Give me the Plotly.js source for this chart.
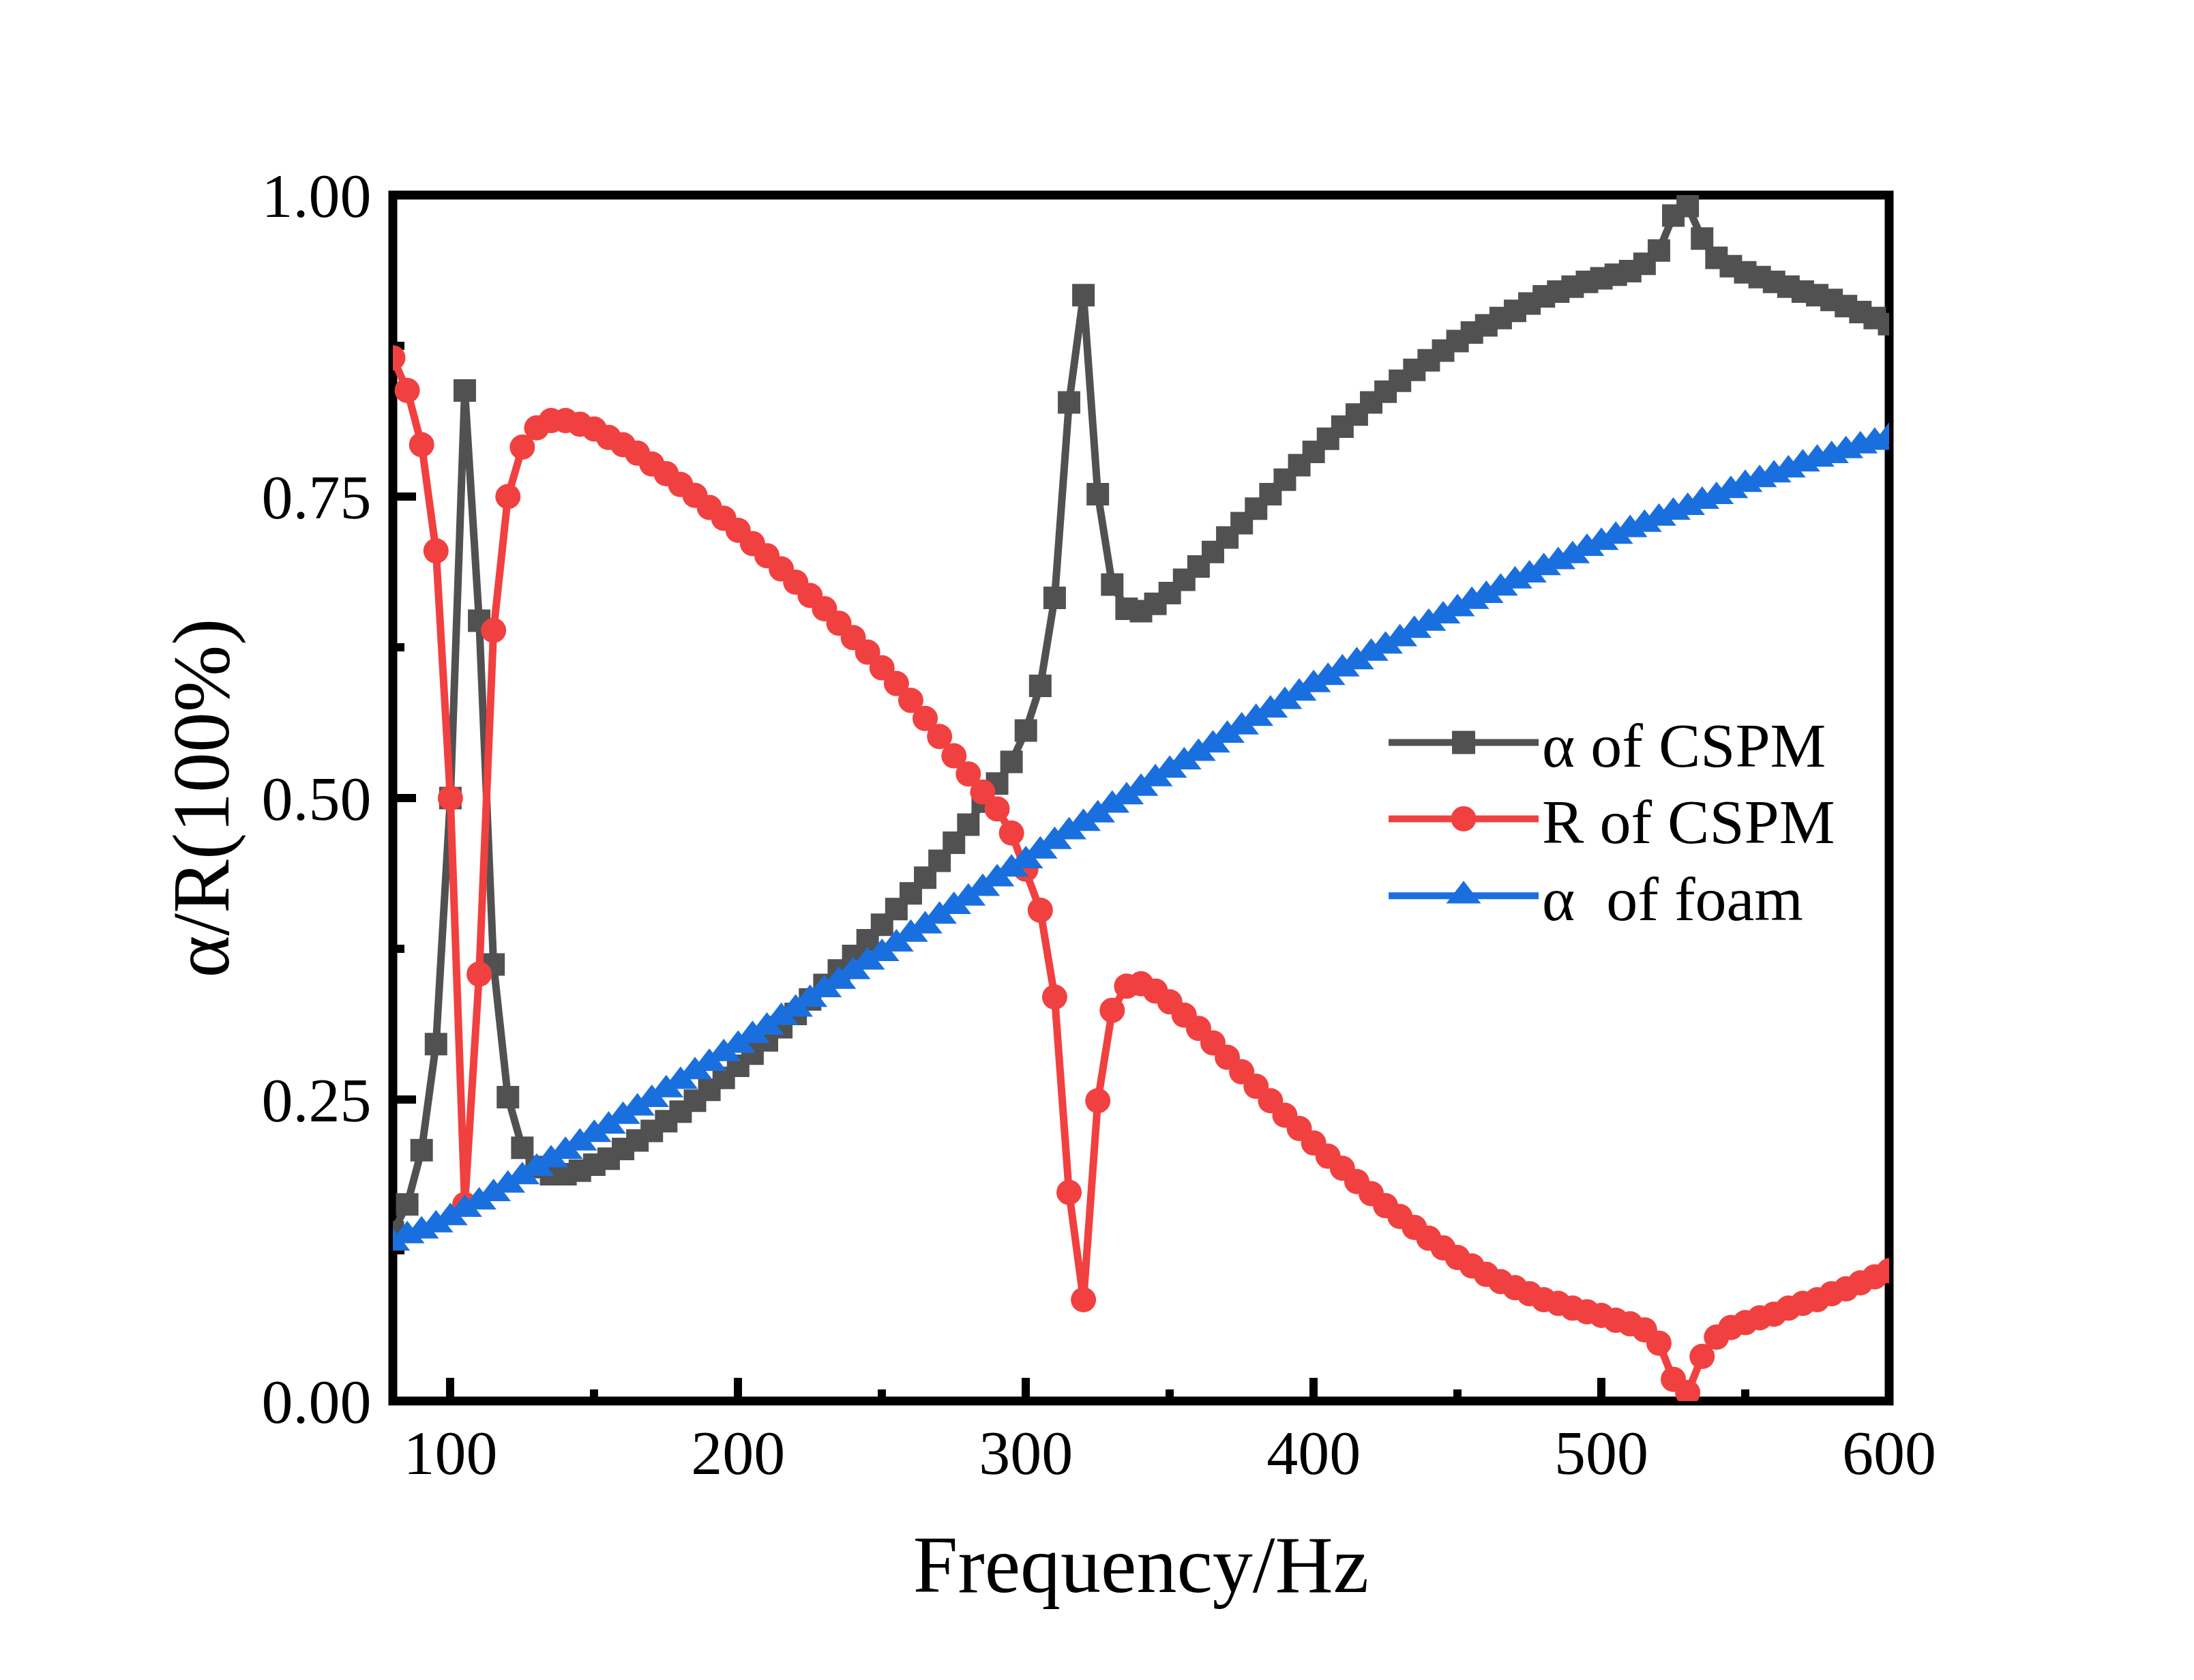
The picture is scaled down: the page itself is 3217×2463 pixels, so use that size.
<!DOCTYPE html>
<html>
<head>
<meta charset="utf-8">
<script src="https://cdn.plot.ly/plotly-3.0.1.min.js"></script>
<style>html,body{margin:0;padding:0;background:#ffffff;}</style>
</head>
<body>
<div id="chart" style="width:3217px;height:2463px;"></div>
<script>
const frequency = [80,85,90,95,100,105,110,115,120,125,130,135,140,145,150,155,160,165,170,175,180,185,190,195,200,205,210,215,220,225,230,235,240,245,250,255,260,265,270,275,280,285,290,295,300,305,310,315,320,325,330,335,340,345,350,355,360,365,370,375,380,385,390,395,400,405,410,415,420,425,430,435,440,445,450,455,460,465,470,475,480,485,490,495,500,505,510,515,520,525,530,535,540,545,550,555,560,565,570,575,580,585,590,595,600];

const alphaCSPM = [0.140,0.163,0.208,0.296,0.500,0.838,0.647,0.362,0.252,0.210,0.194,0.188,0.188,0.191,0.196,0.201,0.209,0.216,0.224,0.232,0.240,0.249,0.258,0.268,0.278,0.288,0.299,0.310,0.321,0.333,0.345,0.357,0.369,0.382,0.395,0.408,0.421,0.434,0.448,0.463,0.478,0.497,0.512,0.530,0.556,0.593,0.666,0.828,0.917,0.752,0.677,0.657,0.655,0.661,0.670,0.681,0.692,0.704,0.716,0.728,0.740,0.752,0.764,0.776,0.787,0.798,0.808,0.818,0.828,0.837,0.846,0.855,0.863,0.871,0.879,0.886,0.892,0.898,0.904,0.910,0.916,0.920,0.924,0.928,0.931,0.934,0.937,0.943,0.954,0.983,0.991,0.964,0.948,0.941,0.936,0.932,0.928,0.924,0.920,0.917,0.913,0.908,0.903,0.898,0.893];

const reflectionCSPM = [0.865,0.838,0.793,0.705,0.500,0.163,0.354,0.639,0.750,0.791,0.807,0.813,0.813,0.810,0.806,0.799,0.793,0.786,0.777,0.769,0.760,0.751,0.741,0.732,0.722,0.711,0.701,0.690,0.679,0.668,0.657,0.645,0.633,0.621,0.608,0.595,0.581,0.566,0.551,0.535,0.520,0.505,0.491,0.471,0.441,0.407,0.335,0.173,0.084,0.249,0.324,0.344,0.346,0.340,0.331,0.320,0.309,0.297,0.285,0.273,0.261,0.249,0.237,0.226,0.214,0.203,0.193,0.182,0.172,0.162,0.153,0.144,0.135,0.127,0.119,0.112,0.105,0.099,0.094,0.089,0.084,0.081,0.077,0.074,0.071,0.067,0.064,0.059,0.048,0.018,0.007,0.037,0.053,0.061,0.065,0.069,0.072,0.077,0.081,0.084,0.089,0.093,0.098,0.103,0.108];

const alphaFoam = [0.131,0.137,0.141,0.146,0.152,0.159,0.165,0.172,0.179,0.186,0.193,0.200,0.207,0.214,0.221,0.228,0.236,0.243,0.250,0.258,0.265,0.273,0.280,0.288,0.295,0.303,0.310,0.318,0.325,0.333,0.341,0.348,0.356,0.364,0.371,0.379,0.387,0.394,0.402,0.410,0.417,0.425,0.433,0.441,0.448,0.456,0.464,0.472,0.479,0.486,0.494,0.501,0.508,0.516,0.523,0.530,0.537,0.544,0.552,0.559,0.566,0.573,0.580,0.587,0.594,0.600,0.607,0.613,0.620,0.626,0.632,0.639,0.645,0.651,0.657,0.663,0.668,0.674,0.680,0.685,0.691,0.696,0.701,0.707,0.712,0.717,0.7225,0.727,0.732,0.737,0.741,0.746,0.750,0.755,0.760,0.764,0.768,0.772,0.777,0.781,0.784,0.788,0.792,0.795,0.799];

const seriesNames = ['α of CSPM', 'R of CSPM', 'α\u00a0 of foam'];
const xTickValues = [100, 200, 300, 400, 500, 600];
const xTickLabels = ['100', '200', '300', '400', '500', '600'];
const xMinorTickValues = [150, 250, 350, 450, 550];
const yTickValues = [0, 0.25, 0.5, 0.75, 1.0];
const yTickLabels = ['0.00', '0.25', '0.50', '0.75', '1.00'];
const yMinorTickValues = [0.125, 0.375, 0.625, 0.875];
const xTitle = 'Frequency/Hz';
const yTitle = 'α/R(100%)';

const FONT = 'Liberation Serif, "Times New Roman", Times, serif';
const LW = 11;
const COLORS = ['#515151', '#F14040', '#1A6FDF'];
const SYMBOLS = ['square', 'circle', 'triangle-up'];
const SIZES = [33, 37, 44];
const LEGEND_TARGET_W = [34, 37, 51];

const seriesValues = [alphaCSPM, reflectionCSPM, alphaFoam];
const legendIds = ['legend', 'legend2', 'legend3'];

const traces = seriesValues.map((vals, i) => ({
  x: frequency, y: vals, name: seriesNames[i], type: 'scatter', mode: 'lines+markers',
  legend: legendIds[i],
  line: {color: COLORS[i], width: LW},
  marker: {symbol: SYMBOLS[i], size: SIZES[i], color: COLORS[i]}
}));

const axisCommon = {
  showgrid: false, zeroline: false,
  showline: true, linewidth: 13, linecolor: 'rgba(0,0,0,0)', mirror: false,
  ticks: 'inside', ticklen: 34, tickwidth: 12, tickcolor: '#000000',
  tickfont: {family: FONT, size: 92, color: '#000000'},
  layer: 'below traces'
};

function legendAt(yPos) {
  return {
    x: 0.6632, y: yPos, xanchor: 'left', yanchor: 'middle',
    font: {family: FONT, size: 92, color: '#000000'},
    bgcolor: 'rgba(0,0,0,0)', borderwidth: 0,
    itemwidth: 220, tracegroupgap: 0, traceorder: 'normal'
  };
}

const layout = {
  width: 3217, height: 2463,
  paper_bgcolor: '#ffffff', plot_bgcolor: 'rgba(0,0,0,0)',
  font: {family: FONT, color: '#000000'},
  margin: {l: 576, r: 447, t: 286, b: 409, pad: 0},
  showlegend: true,
  legend: legendAt(0.5460),
  legend2: legendAt(0.4827),
  legend3: legendAt(0.4188),
  shapes: [{
    type: 'rect', xref: 'paper', yref: 'paper', x0: 0, x1: 1, y0: 0, y1: 1,
    line: {color: '#000000', width: 13}, fillcolor: 'rgba(0,0,0,0)', layer: 'below'
  }],
  xaxis: Object.assign({}, axisCommon, {
    range: [80, 600],
    tickmode: 'array', tickvals: xTickValues, ticktext: xTickLabels,
    ticklabelstandoff: -16,
    minor: {tickmode: 'array', tickvals: xMinorTickValues, ticks: 'inside', ticklen: 17, tickwidth: 12, tickcolor: '#000000', showgrid: false},
    title: {text: xTitle, font: {family: FONT, size: 118, color: '#000000'}, standoff: 76}
  }),
  yaxis: Object.assign({}, axisCommon, {
    range: [0, 1],
    tickmode: 'array', tickvals: yTickValues, ticktext: yTickLabels,
    minor: {tickmode: 'array', tickvals: yMinorTickValues, ticks: 'inside', ticklen: 17, tickwidth: 12, tickcolor: '#000000', showgrid: false},
    title: {text: yTitle, font: {family: FONT, size: 118, color: '#000000'}, standoff: 14}
  })
};

Plotly.newPlot('chart', traces, layout, {displayModeBar: false, staticPlot: true}).then(function () {
  // enlarge the legend symbols to match the plotted marker size
  const fillToIndex = {};
  COLORS.forEach((c, i) => {
    const r = parseInt(c.slice(1, 3), 16), g = parseInt(c.slice(3, 5), 16), b = parseInt(c.slice(5, 7), 16);
    fillToIndex['rgb(' + r + ', ' + g + ', ' + b + ')'] = i;
  });
  document.querySelectorAll('.legendpoints path.scatterpts').forEach(function (p) {
    const idx = fillToIndex[p.style.fill];
    if (idx === undefined) return;
    const bb = p.getBBox();
    if (!bb.width) return;
    const k = LEGEND_TARGET_W[idx] / bb.width;
    const t = p.getAttribute('transform') || '';
    p.setAttribute('transform', (t + ' scale(' + k.toFixed(3) + ')').trim());
  });
});
</script>
</body>
</html>
